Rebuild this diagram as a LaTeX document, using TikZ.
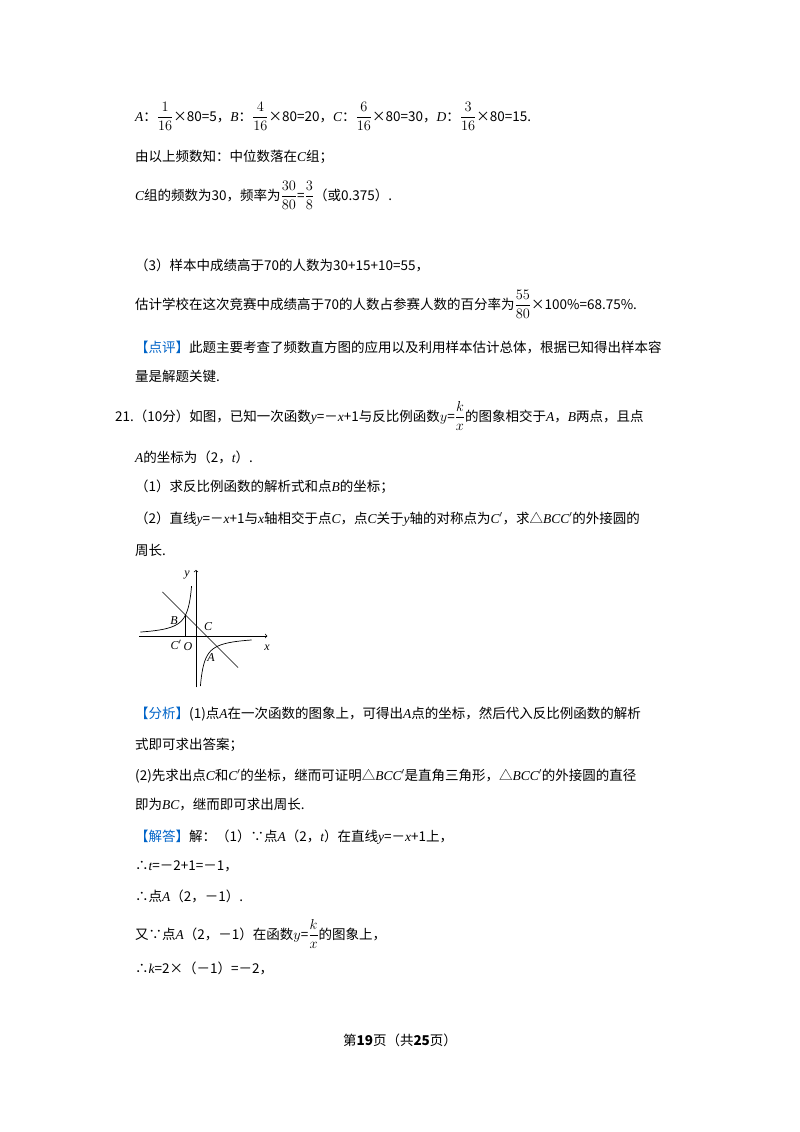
\documentclass[tikz,border=0pt]{standalone}
\usepackage{amsmath}
\usepackage{fontspec}
\setmainfont{Liberation Serif}
\newfontfamily\cjk{Noto Sans CJK SC}
\newcommand\vi[1]{{\rmfamily\itshape #1}}
\definecolor{dpblue}{RGB}{0,100,200}
\begin{document}
\begin{tikzpicture}[x=1pt,y=1pt,
 txt/.style={anchor=base west,inner sep=0pt,font=\cjk\fontsize{13.5}{16}\selectfont},
 lbl/.style={inner sep=0pt,font=\rmfamily\itshape\fontsize{12}{14}\selectfont}]
\useasboundingbox (0,0) rectangle (800,-1132);
\fill[white] (0,0) rectangle (800,-1132);
\node[txt] (l1) at (135,-121) {\vi{A}：$\dfrac{1}{16}$×80=5，\vi{B}：$\dfrac{4}{16}$×80=20，\vi{C}：$\dfrac{6}{16}$×80=30，\vi{D}：$\dfrac{3}{16}$×80=15.};
\node[txt] (l2) at (135,-161) {由以上频数知：中位数落在\vi{C}组；};
\node[txt] (l3) at (135,-200) {\vi{C}组的频数为30，频率为$\dfrac{30}{80}$=$\dfrac{3}{8}$（或0.375）.};
\node[txt] (l4) at (135,-270) {（3）样本中成绩高于70的人数为30+15+10=55，};
\node[txt] (l5) at (135,-309) {估计学校在这次竞赛中成绩高于70的人数占参赛人数的百分率为$\dfrac{55}{80}$×100\%=68.75\%.};
\node[txt] (l6) at (135,-352) {{\color{dpblue}【点评】}此题主要考查了频数直方图的应用以及利用样本估计总体，根据已知得出样本容};
\node[txt] (l7) at (135,-381) {量是解题关键.};
\node[txt] (l8) at (115,-421) {21.（10分）如图，已知一次函数\vi{y}=－\vi{x}+1与反比例函数$y$=$\dfrac{k}{x}$的图象相交于\vi{A}，\vi{B}两点，且点};
\node[txt] (l9) at (135,-462) {\vi{A}的坐标为（2，\vi{t}）.};
\node[txt] (l10) at (135,-491) {（1）求反比例函数的解析式和点\vi{B}的坐标；};
\node[txt] (l11) at (135,-523) {（2）直线\vi{y}=－\vi{x}+1与\vi{x}轴相交于点\vi{C}，点\vi{C}关于\vi{y}轴的对称点为\vi{C}$'$，求△\vi{BCC}$'$的外接圆的};
\node[txt] (l12) at (135,-555) {周长.};
\begin{scope}[shift={(196,-636)},x=10.5pt,y=10.5pt,line width=0.7pt]
\draw[->] (-5.4,0) -- (6.8,0);
\draw[->] (0,-4.9) -- (0,6.3);
\draw (-3.2,4.2) -- (4,-3);
\draw[domain=-5.3:-0.42,samples=80,smooth] plot (\x,{-2/\x});
\draw[domain=0.42:5.3,samples=80,smooth] plot (\x,{-2/\x});
\draw (-1,2) -- (-1,0);
\end{scope}
\node[lbl] (ly) at (187,-575) {y};
\node[lbl] (lx) at (267,-648) {x};
\node[lbl] (lB) at (174,-621) {B};
\node[lbl] (lC) at (208,-627) {C};
\node[lbl] (lCp) at (176,-645) {C$'$};
\node[lbl] (lO) at (188,-647) {O};
\node[lbl] (lA) at (211,-658) {A};
\node[txt] (l13) at (135,-718) {{\color{dpblue}【分析】}(1)点\vi{A}在一次函数的图象上，可得出\vi{A}点的坐标，然后代入反比例函数的解析};
\node[txt] (l14) at (135,-749) {式即可求出答案；};
\node[txt] (l15) at (135,-780) {(2)先求出点\vi{C}和\vi{C}$'$的坐标，继而可证明△\vi{BCC}$'$是直角三角形，△\vi{BCC}$'$的外接圆的直径};
\node[txt] (l16) at (135,-809) {即为\vi{BC}，继而即可求出周长.};
\node[txt] (l17) at (135,-841) {{\color{dpblue}【解答】}解：（1）∵点\vi{A}（2，\vi{t}）在直线\vi{y}=－\vi{x}+1上，};
\node[txt] (l18) at (135,-870) {∴\vi{t}=－2+1=－1，};
\node[txt] (l19) at (135,-901) {∴点\vi{A}（2，－1）.};
\node[txt] (l20) at (135,-939) {又∵点\vi{A}（2，－1）在函数$y$=$\dfrac{k}{x}$的图象上，};
\node[txt] (l21) at (135,-973) {∴\vi{k}=2×（－1）=－2，};
\node[txt,anchor=base] (ft) at (400,-1045) {第\textbf{19}页（共\textbf{25}页）};
\end{tikzpicture}
\end{document}
